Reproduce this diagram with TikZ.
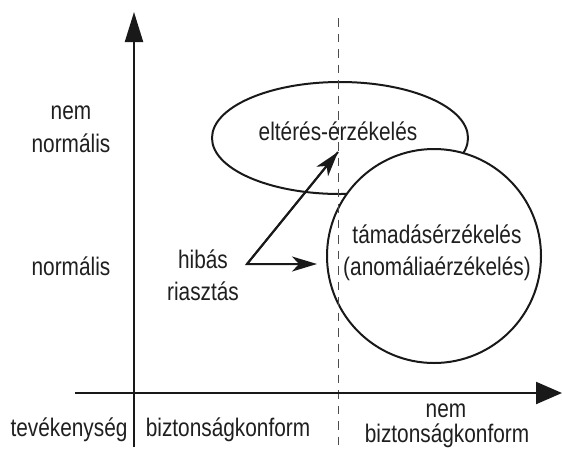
\documentclass[tikz,border=0pt]{standalone}
\usepackage{fontspec}
\setmainfont{Liberation Sans}[FakeStretch=0.82]
\usetikzlibrary{arrows.meta,shapes.geometric}
\begin{document}
\begin{tikzpicture}[x=1pt,y=-1pt,
  lbl/.style={anchor=base,inner sep=0pt,text=black!88,font=\fontsize{25.4}{32}\selectfont},
  axis/.style={line width=2.2pt,black!90},
  shapeline/.style={line width=2pt,black!90},
  sep/.style={line width=1pt,black!70,dash pattern=on 8.5pt off 7pt},
  ptr/.style={line width=2pt,black!90,-{Stealth[length=25pt,width=15pt,inset=7pt]}}]
\useasboundingbox (0,0) rectangle (562,448);
% ellipse and circle
\node[shapeline,draw,ellipse,minimum width=256pt,minimum height=112pt,inner sep=0pt] (elt) at (340,138) {};
\node[shapeline,draw,circle,fill=white,minimum size=214pt,inner sep=0pt] (tam) at (434,256) {};
% dashed separator
\coordinate (dtop) at (338,18);
\coordinate (dbot) at (338,448);
\draw[sep] (dtop) -- (dbot);
% axes
\coordinate (yb) at (134,447);
\coordinate (yt) at (134,12);
\coordinate (xl) at (75,393);
\coordinate (xr) at (562,393);
\draw[axis,-{Triangle[length=30pt,width=18pt]}] (yb) -- (yt);
\draw[axis,-{Triangle[length=26pt,width=22pt]}] (xl) -- (xr);
% arrows
\coordinate (v) at (247,264);
\coordinate (a1) at (338,152);
\coordinate (a2) at (317,264);
\draw[ptr,line join=miter] (a1) -- (v) -- (a2);
\draw[ptr] (v) -- (a1);
% texts
\node[lbl] (t1) at (71,119) {nem};
\node[lbl] (t2) at (71,152) {normális};
\node[lbl] (t3) at (71,275) {normális};
\node[lbl] (t4) at (203,268) {hibás};
\node[lbl] (t5) at (203,300) {riasztás};
\node[lbl] (t6) at (338,140) {eltérés-érzékelés};
\node[lbl] (t7) at (437,243) {támadásérzékelés};
\node[lbl] (t8) at (437,275) {(anomáliaérzékelés)};
\node[lbl] (t9) at (69,436) {tevékenység};
\node[lbl] (t10) at (228,436) {biztonságkonform};
\node[lbl] (t11) at (446,417) {nem};
\node[lbl] (t12) at (447,442) {biztonságkonform};
\end{tikzpicture}
\end{document}
